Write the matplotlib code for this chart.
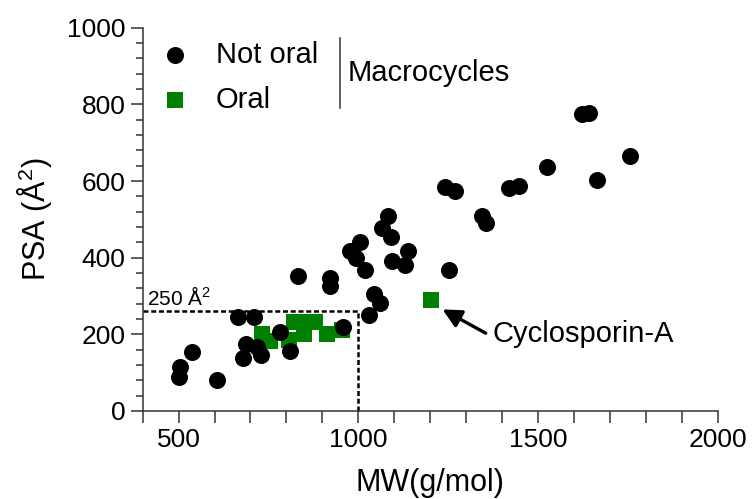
import matplotlib
matplotlib.use("Agg")
import matplotlib.pyplot as plt
from matplotlib.ticker import MultipleLocator, FixedLocator
from matplotlib.lines import Line2D

plt.rcParams['font.family'] = ['Liberation Sans', 'DejaVu Sans']
plt.rcParams['mathtext.fontset'] = 'custom'
plt.rcParams['mathtext.rm'] = 'Liberation Sans'
plt.rcParams['mathtext.default'] = 'regular'

# Not oral macrocycles (MW, PSA)
not_oral_mw = [501, 504, 538, 607, 665, 709, 688, 718, 680, 729, 783, 809, 833, 921, 921,
               957, 1029, 1044, 1059, 978, 992, 1004, 1018, 1066, 1081, 1091, 1094, 1129,
               1137, 1242, 1270, 1252, 1344, 1355, 1419, 1448, 1524, 1621, 1640, 1663, 1754]
not_oral_psa = [89, 116, 155, 80, 244, 244, 176, 168, 139, 145, 205, 156, 351, 348, 325,
                220, 250, 305, 281, 417, 399, 440, 368, 478, 509, 454, 392, 382,
                418, 584, 573, 368, 508, 491, 581, 587, 636, 775, 778, 602, 666]

# Oral macrocycles (MW, PSA)
oral_mw = [732, 754, 806, 822, 852, 878, 848, 913, 955, 1202]
oral_psa = [202, 182, 184, 232, 232, 232, 202, 202, 210, 290]

threshold_mw = 1000
threshold_psa = 260

x_ticks = [500, 1000, 1500, 2000]
y_ticks = [0, 200, 400, 600, 800, 1000]

fig = plt.figure(figsize=(7.53, 4.99), dpi=100)
ax = fig.add_axes([0.1894, 0.1764, 0.7641, 0.7681])

# Dashed threshold lines
ax.plot([400, threshold_mw], [threshold_psa, threshold_psa], color='black',
        lw=1.8, ls=(0, (2.0, 1.1)), zorder=1, clip_on=False)
ax.plot([threshold_mw, threshold_mw], [0, threshold_psa], color='black',
        lw=1.8, ls=(0, (2.0, 1.1)), zorder=1, clip_on=False)
ax.text(412, threshold_psa + 5, r'250 Å$^2$', fontsize=15, ha='left', va='bottom')

sq = ax.scatter(oral_mw, oral_psa, marker='s', s=140, color='#008000',
                linewidths=0, zorder=2, label='Oral')
ci = ax.scatter(not_oral_mw, not_oral_psa, marker='o', s=150, color='black',
                linewidths=0, zorder=3, label='Not oral')

# Cyclosporin-A annotation
ax.annotate('', xy=(1234, 265), xytext=(1354, 203),
            arrowprops=dict(arrowstyle='-|>', color='black', lw=2.4,
                            mutation_scale=28, shrinkA=0, shrinkB=0))
ax.text(1373, 200, 'Cyclosporin-A', fontsize=21, ha='left', va='center')

ax.set_xlim(400, 2000)
ax.set_ylim(0, 1000)
ax.xaxis.set_major_locator(FixedLocator(x_ticks))
ax.xaxis.set_minor_locator(MultipleLocator(100))
ax.yaxis.set_major_locator(FixedLocator(y_ticks))
ax.yaxis.set_minor_locator(MultipleLocator(40))

for s in ['top', 'right']:
    ax.spines[s].set_visible(False)
for s in ['left', 'bottom']:
    ax.spines[s].set_linewidth(1.1)
    ax.spines[s].set_color('#333333')

ax.tick_params(axis='both', which='major', length=8.5, width=1.1, color='#333333',
               labelsize=19, pad=4)
ax.tick_params(axis='x', which='minor', length=8.5, width=1.1, color='#333333')
ax.tick_params(axis='y', which='minor', length=5, width=1.1, color='#333333')

ax.set_xlabel('MW(g/mol)', fontsize=22, labelpad=11)
ax.set_ylabel(r'PSA (Å$^2$)', fontsize=22, labelpad=9)

leg = ax.legend(handles=[ci, sq], labels=['Not oral', 'Oral'], loc='upper left',
                bbox_to_anchor=(-0.005, 1.012), frameon=False, fontsize=21,
                handletextpad=0.8, labelspacing=0.6, borderaxespad=0.2,
                handlelength=1.2)

ax.add_line(Line2D([0.343, 0.343], [0.790, 0.973], transform=ax.transAxes,
                   color='#333333', lw=1.1))
ax.text(0.357, 0.882, 'Macrocycles', transform=ax.transAxes, fontsize=21,
        ha='left', va='center')

fig.savefig('out.png', dpi=100)
